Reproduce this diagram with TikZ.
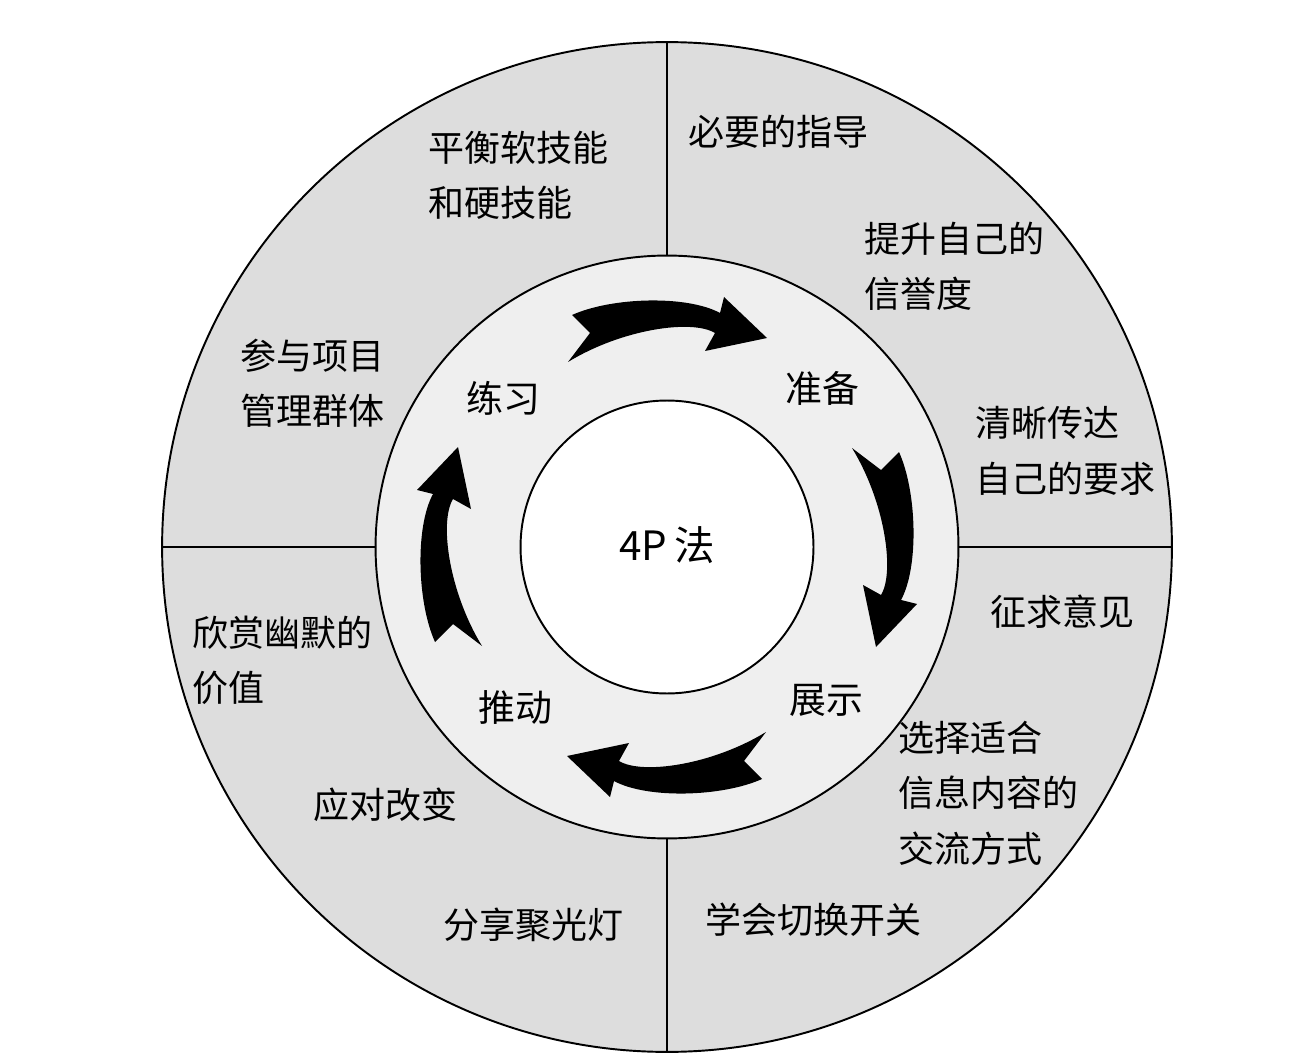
\documentclass[tikz,border=0pt]{standalone}
\usepackage{fontspec}
\newfontfamily\cjk{Noto Sans CJK SC}
\usetikzlibrary{positioning}
\definecolor{outergray}{HTML}{DDDDDD}
\definecolor{ringgray}{HTML}{EFEFEF}
\tikzset{
  % ringar
  disc/.style={circle,draw=black,line width=1.1pt,inner sep=0pt,outer sep=0pt},
  divider/.style={draw=black,line width=1.1pt},
  % texter
  tip/.style={font=\cjk\fontsize{20.5}{31.5}\selectfont,align=left,anchor=west,inner sep=0pt},
  phase/.style={font=\cjk\fontsize{21}{25}\selectfont,inner sep=0pt},
  % pilar
  swoosh/.pic={
    \fill[black] (-95,-232) .. controls (-55,-250) and (20,-252) .. (53,-234)
      -- (57,-250) -- (100,-209) -- (38,-196) -- (48,-214)
      .. controls (25,-228) and (-45,-218) .. (-99,-185)
      -- (-77,-214) -- cycle;
  },
}
\begin{document}
\begin{tikzpicture}[x=0.02cm,y=-0.02cm]
\useasboundingbox (0,0) rectangle (1314,1060);
  \coordinate (c) at (667,547);
  \node[disc,fill=outergray,minimum size=20.2cm] (outer) at (c) {};
  \node[disc,fill=ringgray,minimum size=11.66cm] (ring) at (c) {};
  \node[disc,fill=white,minimum size=5.86cm] (core) at (c) {};
  \draw[divider] (outer.north) -- (ring.north);
  \draw[divider] (ring.south) -- (outer.south);
  \draw[divider] (outer.west) -- (ring.west);
  \draw[divider] (ring.east) -- (outer.east);
  \pic at (c) {swoosh};
  \pic[rotate=-90] at (c) {swoosh};
  \pic[rotate=-180] at (c) {swoosh};
  \pic[rotate=-270] at (c) {swoosh};
  \node[phase,font=\cjk\fontsize{23}{27}\selectfont] (center) at (667,545) {4P\,法};
  \node[phase] (practice) at (503,398) {练习};
  \node[phase] (prepare) at (822,388) {准备};
  \node[phase] (present) at (826,700) {展示};
  \node[phase] (push) at (515,707) {推动};
  \node[tip] (balance) at (428,175) {平衡软技能\\和硬技能};
  \node[tip] (guide) at (688,132) {必要的指导};
  \node[tip] (credit) at (864,266) {提升自己的\\信誉度};
  \node[tip] (group) at (240,383) {参与项目\\管理群体};
  \node[tip] (clear) at (975,451) {清晰传达\\自己的要求};
  \node[tip] (advice) at (990,612) {征求意见};
  \node[tip] (humor) at (192,660) {欣赏幽默的\\价值};
  \node[tip] (channel) at (898,793) {选择适合\\信息内容的\\交流方式};
  \node[tip] (change) at (313,805) {应对改变};
  \node[tip] (spot) at (443,925) {分享聚光灯};
  \node[tip] (switch) at (705,920) {学会切换开关};
\end{tikzpicture}
\end{document}
